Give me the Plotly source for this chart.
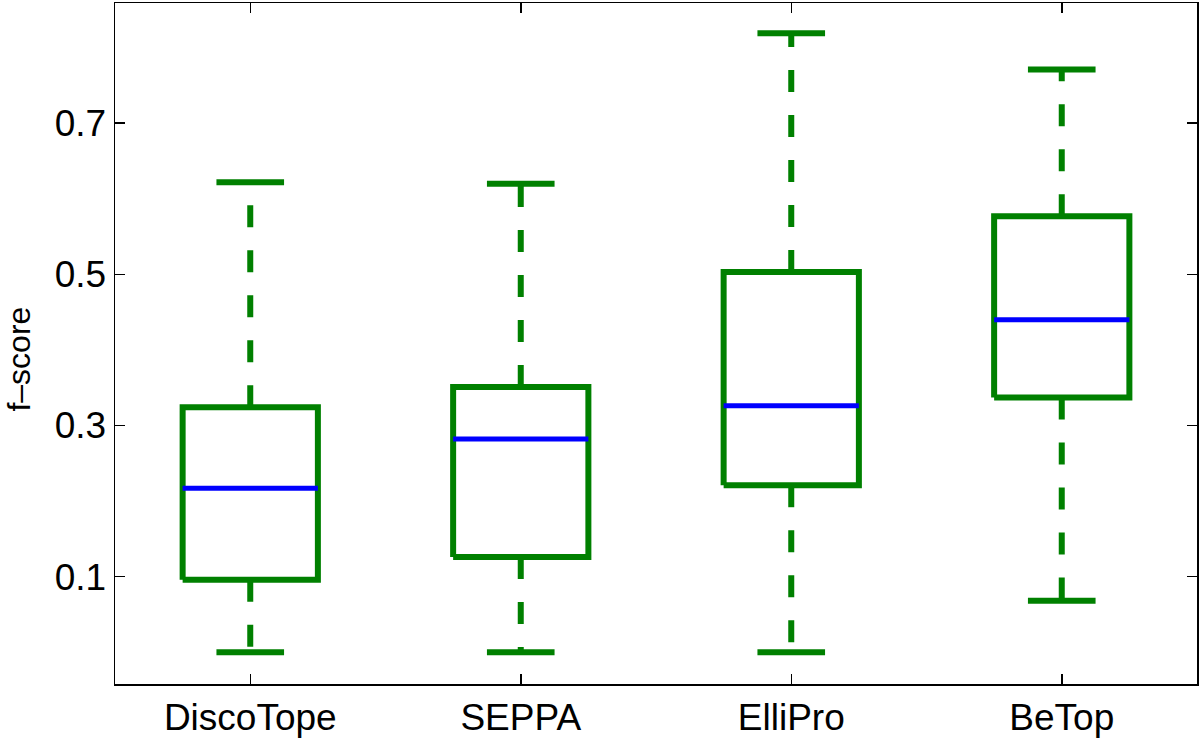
import plotly.graph_objects as go

categories = ["DiscoTope", "SEPPA", "ElliPro", "BeTop"]
lower_whisker = [0.000, 0.000, 0.000, 0.068]
q1 = [0.096, 0.126, 0.221, 0.337]
median = [0.217, 0.282, 0.326, 0.440]
q3 = [0.324, 0.351, 0.503, 0.577]
upper_whisker = [0.622, 0.620, 0.819, 0.771]
y_ticks = [0.1, 0.3, 0.5, 0.7]
y_tick_labels = ["0.1", "0.3", "0.5", "0.7"]

GREEN = "#008000"
BLUE = "#0000ff"
BOX_HALF = 0.25
CAP_HALF = 0.125
DASH = "22px,23px"

fig = go.Figure()
for i, name in enumerate(categories):
    c = i + 1
    # whiskers (dashed), drawn from box edge outwards
    fig.add_trace(go.Scatter(x=[c, c], y=[q3[i], upper_whisker[i]], mode="lines",
                             line=dict(color=GREEN, width=6, dash=DASH),
                             hoverinfo="skip", showlegend=False))
    fig.add_trace(go.Scatter(x=[c, c], y=[q1[i], lower_whisker[i]], mode="lines",
                             line=dict(color=GREEN, width=6, dash=DASH),
                             hoverinfo="skip", showlegend=False))
    # caps
    for v in (upper_whisker[i], lower_whisker[i]):
        fig.add_trace(go.Scatter(x=[c - CAP_HALF, c + CAP_HALF], y=[v, v], mode="lines",
                                 line=dict(color=GREEN, width=6),
                                 hoverinfo="skip", showlegend=False))
    # box
    fig.add_trace(go.Scatter(
        x=[c - BOX_HALF, c + BOX_HALF, c + BOX_HALF, c - BOX_HALF, c - BOX_HALF],
        y=[q1[i], q1[i], q3[i], q3[i], q1[i]], mode="lines",
        line=dict(color=GREEN, width=6), hoverinfo="skip", showlegend=False))
    # median
    fig.add_trace(go.Scatter(x=[c - BOX_HALF, c + BOX_HALF], y=[median[i], median[i]],
                             mode="lines", line=dict(color=BLUE, width=5),
                             hoverinfo="skip", showlegend=False))

FONT = "Liberation Sans, Arial, Helvetica, sans-serif"
fig.update_layout(
    width=1200, height=739,
    margin=dict(l=115, r=1, t=2, b=53),
    paper_bgcolor="white", plot_bgcolor="white",
    font=dict(family=FONT, size=37, color="black"),
    xaxis=dict(range=[0.5, 4.5], tickvals=[1, 2, 3, 4], ticktext=categories,
               ticks="inside", ticklen=10, tickwidth=1.5, tickcolor="black",
               showline=True, linecolor="black", linewidth=1.5, mirror="ticks",
               showgrid=False, zeroline=False, tickfont=dict(size=37)),
    yaxis=dict(range=[-0.042, 0.859], tickvals=y_ticks, ticktext=y_tick_labels,
               ticks="inside", ticklen=10, tickwidth=1.5, tickcolor="black",
               showline=True, linecolor="black", linewidth=1.5, mirror="ticks",
               showgrid=False, zeroline=False, tickfont=dict(size=37)),
    annotations=[dict(text="f\u2013score", xref="paper", yref="paper",
                      x=(19 - 115) / 1084, y=(686 - 360) / 684,
                      xanchor="center", yanchor="middle", textangle=-90,
                      showarrow=False, font=dict(size=32, family=FONT))],
)

fig.write_html(
    "out.html",
    config={"displayModeBar": False, "staticPlot": True},
    post_script="document.body.style.margin='0';document.body.style.padding='0';"
                "document.documentElement.style.overflow='hidden';",
)
